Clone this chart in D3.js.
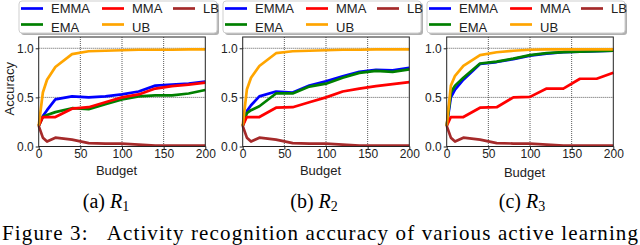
<!DOCTYPE html>
<html>
<head>
<meta charset="utf-8">
<script src="https://cdn.jsdelivr.net/npm/d3@7"></script>
<style>
  body { margin: 0; background: #fff; }
  svg { display: block; }
</style>
</head>
<body>
<div id="chart"></div>
<script>
// budgets sampled on the x axis
const budgets = [0, 5, 10, 20, 40, 60, 80, 100, 120, 140, 160, 180, 200];

// R1
const emmaR1 = [0.21, 0.31, 0.37, 0.48, 0.51, 0.50, 0.51, 0.53, 0.56, 0.62, 0.63, 0.64, 0.66];
const emaR1  = [0.21, 0.30, 0.32, 0.35, 0.39, 0.38, 0.43, 0.48, 0.51, 0.52, 0.52, 0.54, 0.575];
const mmaR1  = [0.21, 0.30, 0.30, 0.30, 0.385, 0.40, 0.45, 0.50, 0.53, 0.59, 0.615, 0.63, 0.65];
const ubR1   = [0.21, 0.55, 0.68, 0.81, 0.94, 0.97, 0.975, 0.98, 0.985, 0.985, 0.985, 0.99, 0.99];
const lbR1   = [0.21, 0.09, 0.05, 0.09, 0.07, 0.035, 0.03, 0.03, 0.02, 0.01, 0.01, 0.01, 0.01];

// R2
const emmaR2 = [0.21, 0.36, 0.42, 0.51, 0.56, 0.55, 0.62, 0.665, 0.715, 0.76, 0.78, 0.775, 0.80];
const emaR2  = [0.21, 0.34, 0.37, 0.41, 0.54, 0.54, 0.61, 0.64, 0.70, 0.75, 0.77, 0.76, 0.785];
const mmaR2  = [0.21, 0.30, 0.30, 0.30, 0.395, 0.40, 0.45, 0.50, 0.56, 0.59, 0.615, 0.635, 0.655];
const ubR2   = [0.21, 0.58, 0.70, 0.82, 0.95, 0.97, 0.975, 0.98, 0.985, 0.985, 0.99, 0.99, 0.99];
const lbR2   = [0.21, 0.09, 0.05, 0.09, 0.07, 0.035, 0.03, 0.03, 0.02, 0.01, 0.01, 0.01, 0.01];

// R3
const emmaR3 = [0.21, 0.50, 0.58, 0.68, 0.84, 0.86, 0.89, 0.925, 0.945, 0.96, 0.965, 0.97, 0.975];
const emaR3  = [0.21, 0.55, 0.62, 0.70, 0.845, 0.865, 0.895, 0.93, 0.95, 0.96, 0.965, 0.97, 0.975];
const mmaR3  = [0.21, 0.30, 0.30, 0.30, 0.395, 0.40, 0.50, 0.505, 0.59, 0.59, 0.69, 0.69, 0.75];
const ubR3   = [0.21, 0.62, 0.72, 0.82, 0.93, 0.96, 0.975, 0.985, 0.99, 0.99, 0.99, 0.99, 0.99];
const lbR3   = [0.21, 0.09, 0.05, 0.09, 0.07, 0.035, 0.03, 0.03, 0.02, 0.01, 0.01, 0.01, 0.01];

// legend order (column-wise, 3 columns)
const methods = ["EMMA", "EMA", "MMA", "UB", "LB"];
const colors = { EMMA: "#0000ff", EMA: "#008000", MMA: "#ff0000", UB: "#ffa500", LB: "#a52a2a" };

const xTicks = [0, 50, 100, 150, 200];
const yTicks = [0.0, 0.5, 1.0];

const panels = [
  { letter: "a", sub: "1", series: { EMMA: emmaR1, EMA: emaR1, MMA: mmaR1, UB: ubR1, LB: lbR1 } },
  { letter: "b", sub: "2", series: { EMMA: emmaR2, EMA: emaR2, MMA: mmaR2, UB: ubR2, LB: lbR2 } },
  { letter: "c", sub: "3", series: { EMMA: emmaR3, EMA: emaR3, MMA: mmaR3, UB: ubR3, LB: lbR3 } }
];

const figCaption = "Figure 3:   Activity recognition accuracy of various active learning";

const width = 640, height = 245;
const sans = "'Liberation Sans', Arial, sans-serif";
const serif = "'Liberation Serif', 'Times New Roman', serif";

const svg = d3.select("#chart").append("svg")
  .attr("width", width)
  .attr("height", height);

const step = 204;
const axW = 166.6, axTop = 37, axBottom = 146.5;

panels.forEach((p, i) => {
  const left = 38.7 + i * step;
  const x = d3.scaleLinear().domain([0, 200]).range([left, left + axW]);
  const y = d3.scaleLinear().domain([0, 1.115]).range([axBottom, axTop]);

  const g = svg.append("g");

  // dotted grid
  g.append("g").selectAll("line").data(xTicks.slice(1, -1)).join("line")
    .attr("x1", d => x(d)).attr("x2", d => x(d))
    .attr("y1", axTop).attr("y2", axBottom)
    .attr("stroke", "#333").attr("stroke-width", 0.8).attr("stroke-dasharray", "1,1");
  g.append("g").selectAll("line").data(yTicks.slice(1)).join("line")
    .attr("x1", left).attr("x2", left + axW)
    .attr("y1", d => y(d)).attr("y2", d => y(d))
    .attr("stroke", "#333").attr("stroke-width", 0.8).attr("stroke-dasharray", "1,1");

  // axes
  const xAxis = g.append("g")
    .attr("transform", `translate(0,${axBottom})`)
    .call(d3.axisBottom(x).tickValues(xTicks).tickSize(3).tickPadding(0).tickFormat(d3.format("d")));
  const yAxis = g.append("g")
    .attr("transform", `translate(${left},0)`)
    .call(d3.axisLeft(y).tickValues(yTicks).tickSize(3).tickPadding(2).tickFormat(d3.format(".1f")));
  [xAxis, yAxis].forEach(a => {
    a.select(".domain").remove();
    a.selectAll("text").attr("font-family", sans).attr("font-size", 12).attr("fill", "#222");
    a.selectAll("line").attr("stroke", "#222");
  });

  // lines
  const line = d3.line()
    .x((d, j) => x(budgets[j]))
    .y(d => y(d));
  methods.forEach(m => {
    g.append("path")
      .datum(p.series[m])
      .attr("d", line)
      .attr("fill", "none")
      .attr("stroke", colors[m])
      .attr("stroke-width", 2.7)
      .attr("stroke-linejoin", "round");
  });

  // frame
  g.append("rect")
    .attr("x", left).attr("y", axTop)
    .attr("width", axW).attr("height", axBottom - axTop)
    .attr("fill", "none").attr("stroke", "#222").attr("stroke-width", 1);

  // axis labels
  g.append("text")
    .attr("x", left + axW / 2 - 5.5)
    .attr("y", 174.5 + (i === 2 ? 2 : 0))
    .attr("text-anchor", "middle")
    .attr("font-family", sans).attr("font-size", 13).attr("fill", "#222")
    .text("Budget");
  if (i === 0) {
    g.append("text")
      .attr("transform", `translate(14,${(axTop + axBottom) / 2 - 3}) rotate(-90)`)
      .attr("text-anchor", "middle")
      .attr("font-family", sans).attr("font-size", 13).attr("fill", "#222")
      .text("Accuracy");
  }

  // legend
  const lx = 19 + i * step, ly = 1, lw = 198, lh = 32;
  g.append("rect")
    .attr("x", lx + 2).attr("y", ly + 2).attr("width", lw).attr("height", lh)
    .attr("rx", 3).attr("fill", "#b0b0b0");
  g.append("rect")
    .attr("x", lx).attr("y", ly).attr("width", lw).attr("height", lh)
    .attr("rx", 3).attr("fill", "#fff").attr("stroke", "#cfcfcf").attr("stroke-width", 1);
  const colX = [2, 83, 154];
  methods.forEach((m, k) => {
    const col = Math.floor(k / 2), row = k % 2;
    const hx = lx + colX[col];
    const hy = ly + 7.5 + row * 16;
    g.append("line")
      .attr("x1", hx).attr("x2", hx + 22)
      .attr("y1", hy).attr("y2", hy)
      .attr("stroke", colors[m]).attr("stroke-width", 2.7);
    g.append("text")
      .attr("x", hx + 30)
      .attr("y", hy + 4.5 + row * 2.5)
      .attr("font-family", sans).attr("font-size", 13).attr("fill", "#222")
      .text(m);
  });

  // sub caption
  const cap = g.append("text")
    .attr("x", 106 + i * 208)
    .attr("y", 208)
    .attr("text-anchor", "middle")
    .attr("font-family", serif).attr("font-size", 20).attr("fill", "#000");
  cap.append("tspan").text(`(${p.letter}) `);
  cap.append("tspan").attr("font-style", "italic").text("R");
  cap.append("tspan").attr("font-size", 14).attr("dy", 3).text(p.sub);
});

svg.append("text")
  .attr("x", 2)
  .attr("y", 240)
  .attr("font-family", serif).attr("font-size", 21).attr("fill", "#000")
  .attr("textLength", 636).attr("lengthAdjust", "spacing")
  .style("white-space", "pre")
  .text(figCaption);
</script>
</body>
</html>
